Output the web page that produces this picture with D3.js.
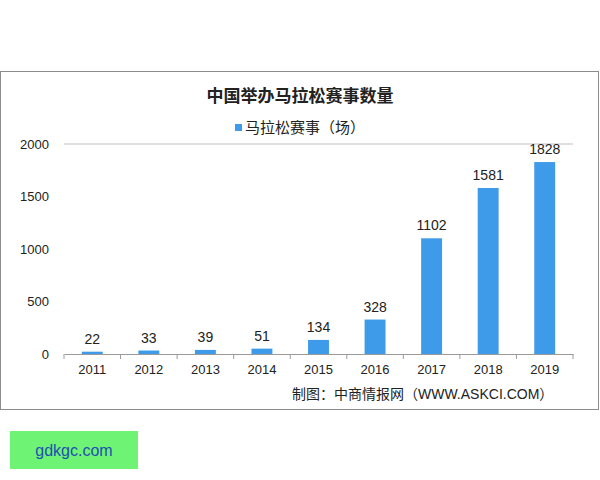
<!DOCTYPE html>
<html><head><meta charset="utf-8">
<script src="https://cdn.jsdelivr.net/npm/d3@7"></script>
<style>body{margin:0;background:#fff;font-family:"Liberation Sans","Noto Sans CJK SC",sans-serif}</style>
</head><body>
<svg id="c" width="600" height="480"></svg>
<script>
const years = ['2011','2012','2013','2014','2015','2016','2017','2018','2019'];
const races = [22, 33, 39, 51, 134, 328, 1102, 1581, 1828];
const yTicks = [0, 500, 1000, 1500, 2000];

const svg = d3.select('#c');
const margin = { top: 144, right: 27, bottom: 126, left: 64 };
const width = 600, height = 480;

svg.append('rect').attr('x', 0.5).attr('y', 71.5).attr('width', 598).attr('height', 338)
  .attr('fill', '#fff').attr('stroke', '#8c8c8c');

const x = d3.scaleBand().domain(years).range([margin.left, width - margin.right])
  .paddingInner(0.63).paddingOuter(0.315);
const y = d3.scaleLinear().domain([0, 2000]).range([height - margin.bottom, margin.top]);

svg.append('line').attr('x1', margin.left).attr('x2', width - margin.right)
  .attr('y1', y(2000)).attr('y2', y(2000)).attr('stroke', '#bfbfbf');

svg.append('g').selectAll('rect').data(races).join('rect')
  .attr('fill', '#3e9be9')
  .attr('x', (d, i) => x(years[i]))
  .attr('y', d => y(d))
  .attr('width', x.bandwidth())
  .attr('height', d => y(0) - y(d));

svg.append('g').selectAll('text').data(races).join('text')
  .attr('x', (d, i) => x(years[i]) + x.bandwidth() / 2)
  .attr('y', d => y(d) - 8)
  .attr('text-anchor', 'middle').attr('font-size', 14).attr('fill', '#222')
  .text(d => d);

const xAxis = svg.append('g').attr('transform', `translate(0,${y(0)})`)
  .call(d3.axisBottom(x).tickSize(5).tickPadding(6).tickSizeOuter(0));
xAxis.selectAll('.tick line').remove();
xAxis.selectAll('.tick text').attr('font-size', 13).attr('fill', '#222')
  .attr('font-family', 'Liberation Sans');
xAxis.select('.domain').attr('stroke', '#9a9a9a');
xAxis.selectAll('.sep').data(d3.range(years.length + 1)).join('line')
  .attr('x1', i => margin.left + i * x.step()).attr('x2', i => margin.left + i * x.step())
  .attr('y1', 0).attr('y2', 5).attr('stroke', '#9a9a9a');

const yAxis = svg.append('g').attr('transform', `translate(${margin.left - 12},0)`)
  .call(d3.axisLeft(y).tickValues(yTicks).tickFormat(d3.format('d')).tickSize(0));
yAxis.select('.domain').remove();
yAxis.selectAll('.tick text').attr('font-size', 13).attr('fill', '#222')
  .attr('font-family', 'Liberation Sans');

svg.append('text').attr('x', 300).attr('y', 102).attr('text-anchor', 'middle')
  .attr('font-size', 17).attr('font-weight', 'bold').attr('fill', '#222')
  .text('中国举办马拉松赛事数量');
svg.append('rect').attr('x', 235).attr('y', 124).attr('width', 7).attr('height', 7).attr('fill', '#3e9be9');
svg.append('text').attr('x', 245).attr('y', 133).attr('font-size', 15).attr('fill', '#222')
  .text('马拉松赛事（场）');
svg.append('text').attr('x', 292).attr('y', 399).attr('font-size', 14).attr('fill', '#222')
  .text('制图：中商情报网（WWW.ASKCI.COM）');

svg.append('rect').attr('x', 10).attr('y', 431).attr('width', 128).attr('height', 38).attr('fill', '#6ef374');
svg.append('text').attr('x', 74).attr('y', 456).attr('text-anchor', 'middle')
  .attr('font-size', 16).attr('fill', '#1f4fb3').text('gdkgc.com');
</script>
</body></html>
